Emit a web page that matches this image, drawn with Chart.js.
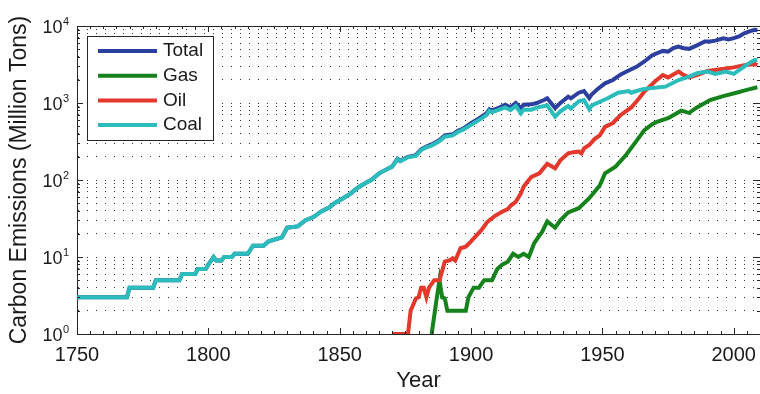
<!DOCTYPE html>
<html>
<head>
<meta charset="utf-8">
<script src="https://cdn.jsdelivr.net/npm/chart.js@4.4.1/dist/chart.umd.min.js"></script>
<style>
  html, body { margin: 0; padding: 0; background: #fff; }
</style>
</head>
<body>
<canvas id="emissionsChart" width="760" height="394"></canvas>
<script>
// values (million tons of carbon per year)
const coalYears = [1750,1769,1770,1779,1780,1789,1790,1795,1796,1799,1800,1802,1803,1805,1806,1809,1810,1815,1817,1821,1823,1828,1830,1834,1837,1840,1843,1846,1848,1851,1854,1857,1860,1862,1865,1868,1870,1872,1873,1876,1879,1881,1883,1885,1888,1890,1893,1895,1897,1900,1903,1906,1907,1908,1910,1913,1915,1917,1919,1920,1923,1925,1928,1929,1932,1934,1937,1938,1941,1943,1945,1946,1948,1952,1956,1960,1961,1965,1968,1974,1979,1983,1986,1990,1993,1997,2000,2003,2006,2008,2009];
const coalValues = [3,3,4,4,5,5,6,6,7,7,8,10,9,9,10,10,11,11,14,14,16,18,24,25,30,33,39,44,50,57,66,80,92,100,122,138,149,186,175,197,205,245,265,280,320,365,380,420,450,520,600,700,790,760,800,875,810,915,735,820,820,870,915,930,665,780,915,850,1050,1090,830,930,1000,1150,1360,1430,1360,1500,1550,1630,1990,2200,2430,2560,2390,2560,2390,2820,3300,3610,3600];

const totalYears = [1750,1769,1770,1779,1780,1789,1790,1795,1796,1799,1800,1802,1803,1805,1806,1809,1810,1815,1817,1821,1823,1828,1830,1834,1837,1840,1843,1846,1848,1851,1854,1857,1860,1862,1865,1868,1870,1872,1873,1876,1879,1881,1883,1885,1888,1890,1893,1895,1897,1900,1903,1906,1907,1908,1910,1913,1915,1917,1919,1920,1923,1925,1928,1929,1932,1934,1937,1938,1941,1943,1945,1946,1948,1951,1954,1957,1960,1963,1966,1969,1973,1975,1977,1979,1981,1983,1986,1989,1991,1993,1996,1998,2000,2002,2004,2006,2008,2009];
const totalValues = [3,3,4,4,5,5,6,6,7,7,8,10,9,9,10,10,11,11,14,14,16,18,24,25,30,33,39,44,50,57,66,80,92,100,122,138,150,188,178,200,210,250,272,290,330,380,392,435,465,545,630,740,830,800,850,950,880,1000,850,950,960,1000,1100,1150,860,1000,1210,1150,1360,1430,1160,1300,1500,1800,1990,2350,2640,2950,3460,4170,4750,4650,5150,5400,5150,5050,5600,6280,6300,6450,6930,6700,6950,7300,8040,8500,8900,8800];

const oilYears = [1870,1876,1877,1879,1880,1881,1882,1883,1884,1886,1888,1890,1892,1893,1894,1896,1898,1900,1902,1904,1906,1907,1909,1912,1914,1915,1917,1919,1920,1922,1923,1926,1929,1932,1934,1937,1939,1941,1942,1943,1945,1947,1949,1951,1954,1957,1961,1964,1966,1970,1973,1975,1979,1981,1983,1986,1990,1995,2000,2004,2008,2009];
const oilValues = [1,1,2,2.9,3,4,4,3,4,5,5,8.7,9.1,9.6,9,13,13.6,16,19,22.5,28,30,34,39,42,46,52,67,82,100,110,122,162,142,180,222,230,234,222,257,285,340,380,490,550,700,875,1150,1410,1900,2300,2150,2560,2300,2150,2300,2600,2750,2900,3100,3210,3130];

const gasYears = [1885,1887,1888,1889,1890,1891,1898,1899,1901,1903,1905,1908,1910,1912,1914,1916,1918,1920,1922,1924,1926,1927,1929,1932,1934,1937,1941,1945,1949,1951,1955,1959,1962,1966,1969,1971,1975,1980,1983,1986,1991,1996,2001,2005,2009];
const gasValues = [1,3,5,3,2.9,2,2,3,4,4,5,5,7,8,8.7,11,10,11,10,15,19,21,29,24,30,38,43,58,85,122,149,211,290,445,530,575,635,795,745,875,1090,1230,1360,1480,1600];

const xTickValues = [1750, 1800, 1850, 1900, 1950, 2000];
const yTickValues = [1, 10, 100, 1000, 10000];
const yTickExponents = ['0', '1', '2', '3', '4'];

const FONT = "'Liberation Sans', Arial, Helvetica, sans-serif";
const INK = '#1a1a1a';

// minor log grid: 1..9 x 10^k
const yGridValues = [];
for (let k = 0; k < 4; k++) {
    for (let m = 1; m <= 9; m++) yGridValues.push(m * Math.pow(10, k));
}
yGridValues.push(10000);

function toPoints(years, values) {
    return years.map((yr, i) => ({ x: yr, y: values[i] }));
}

// matlab style frame: top line, inward ticks, 10^n labels, boxed legend
const frame = {
    id: 'frame',
    afterDatasetsDraw(chart) {
        const { ctx, chartArea: a, scales: { x, y } } = chart;
        ctx.save();
        ctx.strokeStyle = '#262626';
        ctx.lineWidth = 1;
        ctx.beginPath();
        ctx.moveTo(a.left, a.top + 0.5);
        ctx.lineTo(a.right, a.top + 0.5);
        for (let yr = 1750; yr <= 2010; yr += 5) {
            const px = Math.round(x.getPixelForValue(yr)) + 0.5;
            const len = yr % 50 === 0 ? 6 : 3;
            ctx.moveTo(px, a.bottom);
            ctx.lineTo(px, a.bottom - len);
            ctx.moveTo(px, a.top);
            ctx.lineTo(px, a.top + len);
        }
        yGridValues.forEach(v => {
            const py = Math.round(y.getPixelForValue(v)) + 0.5;
            const len = yTickValues.includes(v) ? 6 : 3;
            ctx.moveTo(a.left, py);
            ctx.lineTo(a.left + len, py);
            ctx.moveTo(a.right, py);
            ctx.lineTo(a.right - len, py);
        });
        ctx.stroke();

        // y tick labels with superscript exponent
        ctx.fillStyle = INK;
        yTickValues.forEach((v, i) => {
            const py = y.getPixelForValue(v);
            ctx.font = '18px ' + FONT;
            ctx.textAlign = 'right';
            ctx.textBaseline = 'alphabetic';
            ctx.fillText('10', 62.5, py + 7);
            ctx.font = '11px ' + FONT;
            ctx.textAlign = 'left';
            ctx.fillText(yTickExponents[i], 63, py - 1);
        });

        // legend
        ctx.fillStyle = '#fff';
        ctx.fillRect(87.5, 36.5, 126, 104);
        ctx.strokeStyle = '#262626';
        ctx.strokeRect(87.5, 36.5, 126, 104);
        chart.data.datasets.forEach((ds, i) => {
            const ly = 51 + i * 24.7;
            ctx.strokeStyle = ds.borderColor;
            ctx.lineWidth = 4;
            ctx.beginPath();
            ctx.moveTo(98, ly);
            ctx.lineTo(157, ly);
            ctx.stroke();
            ctx.fillStyle = INK;
            ctx.font = '19px ' + FONT;
            ctx.textAlign = 'left';
            ctx.textBaseline = 'middle';
            ctx.fillText(ds.label, 163, ly);
        });
        ctx.restore();
    }
};

const ctx = document.getElementById('emissionsChart').getContext('2d');
const emissionsChart = new Chart(ctx, {
    type: 'line',
    data: {
        datasets: [
            {
                label: 'Total',
                data: toPoints(totalYears, totalValues),
                borderColor: '#2d3f9e',
                order: 3
            },
            {
                label: 'Gas',
                data: toPoints(gasYears, gasValues),
                borderColor: '#16821c',
                order: 2
            },
            {
                label: 'Oil',
                data: toPoints(oilYears, oilValues),
                borderColor: '#e3382b',
                order: 1
            },
            {
                label: 'Coal',
                data: toPoints(coalYears, coalValues),
                borderColor: '#2bbcbc',
                order: 0
            }
        ]
    },
    options: {
        responsive: false,
        animation: false,
        devicePixelRatio: 1,
        layout: { padding: { top: 26, right: -2, left: 0, bottom: 0 } },
        elements: {
            line: { borderWidth: 4, tension: 0, fill: false },
            point: { radius: 0, hoverRadius: 0 }
        },
        scales: {
            x: {
                type: 'linear',
                min: 1750,
                max: 2010,
                afterBuildTicks: s => { s.ticks = xTickValues.map(v => ({ value: v })); },
                afterFit: s => { s.height = 60; s.paddingLeft = 0; s.paddingRight = 0; },
                grid: { display: false, drawTicks: false },
                border: { display: true, color: '#262626', width: 1 },
                ticks: {
                    padding: 9,
                    color: INK,
                    font: { family: FONT, size: 20 },
                    maxRotation: 0,
                    callback: v => String(v)
                },
                title: {
                    display: true,
                    text: 'Year',
                    color: INK,
                    font: { family: FONT, size: 22 },
                    padding: { top: 0, bottom: 0 }
                }
            },
            y: {
                type: 'logarithmic',
                min: 1,
                max: 10000,
                afterBuildTicks: s => { s.ticks = yGridValues.map(v => ({ value: v })); },
                afterFit: s => { s.width = 77; s.paddingTop = 0; s.paddingBottom = 0; },
                grid: { color: 'rgba(0,0,0,0.8)', lineWidth: 1, drawTicks: false },
                border: { display: true, color: '#262626', width: 1, dash: [1, 8] },
                ticks: { display: false },
                title: {
                    display: true,
                    text: 'Carbon Emissions (Million Tons)',
                    color: INK,
                    font: { family: FONT, size: 23 },
                    padding: { top: 6, bottom: 0 }
                }
            }
        },
        plugins: {
            legend: { display: false },
            tooltip: { enabled: false }
        }
    },
    plugins: [frame]
});
</script>
</body>
</html>
